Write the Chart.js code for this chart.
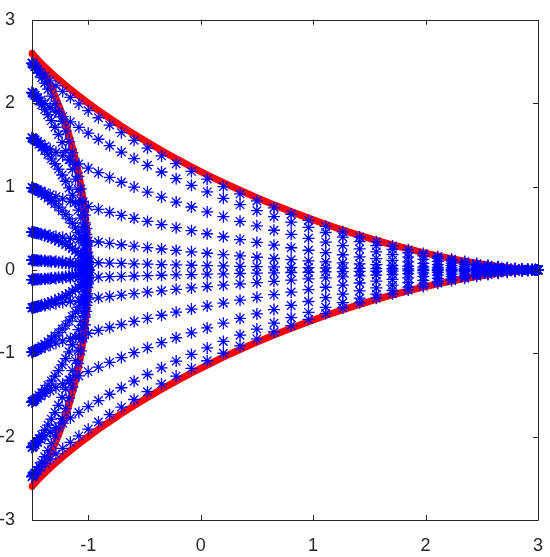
<!DOCTYPE html>
<html>
<head>
<meta charset="utf-8">
<script src="https://cdn.jsdelivr.net/npm/chart.js@4.4.1/dist/chart.umd.min.js"></script>
<style>
  body { margin: 0; background: #fff; }
  #wrap { width: 550px; height: 557px; }
</style>
</head>
<body>
<div id="wrap"><canvas id="myChart" width="550" height="557"></canvas></div>
<script>

// upper half of the red outline, from the right cusp round to (-1, 0)
const curveX = [3, 2.994, 2.977, 2.949, 2.909, 2.859, 2.798, 2.727, 2.645, 2.555,
  2.455, 2.348, 2.232, 2.109, 1.980, 1.846, 1.706, 1.562, 1.414, 1.264,
  1.112, 0.959, 0.805, 0.652, 0.5, 0.350, 0.202, 0.058, -0.082, -0.218,
  -0.348, -0.473, -0.592, -0.705, -0.810, -0.909, -1, -1.083, -1.159, -1.227,
  -1.287, -1.339, -1.384, -1.421, -1.450, -1.472, -1.488, -1.497, -1.5, -1.497,
  -1.489, -1.476, -1.459, -1.438, -1.414, -1.387, -1.358, -1.328, -1.296, -1.264,
  -1.232, -1.200, -1.170, -1.141, -1.113, -1.088, -1.066, -1.046, -1.030, -1.017,
  -1.008, -1.002, -1];
const curveY = [0, 0, 0.001, 0.002, 0.005, 0.010, 0.018, 0.028, 0.041, 0.058,
  0.079, 0.104, 0.134, 0.168, 0.207, 0.252, 0.301, 0.355, 0.414, 0.478,
  0.547, 0.621, 0.699, 0.780, 0.866, 0.955, 1.047, 1.141, 1.237, 1.334,
  1.432, 1.530, 1.628, 1.724, 1.819, 1.911, 2, 2.085, 2.166, 2.242,
  2.312, 2.375, 2.432, 2.481, 2.522, 2.555, 2.579, 2.593, 2.598, 2.593,
  2.578, 2.553, 2.517, 2.471, 2.414, 2.347, 2.270, 2.183, 2.087, 1.981,
  1.866, 1.743, 1.611, 1.472, 1.327, 1.175, 1.018, 0.856, 0.689, 0.520,
  0.348, 0.174, 0];

// blue rows, as a share of the outline height
const rowScale = [0.955, 0.82, 0.61, 0.38, 0.175, 0.045,
  -0.045, -0.175, -0.38, -0.61, -0.82, -0.955];

const tickX = [-1, 0, 1, 2, 3];
const tickY = [-3, -2, -1, 0, 1, 2, 3];

const axisColor = '#262626';

function makeStars(){
  const pts = [];
  rowScale.forEach(function(s){
    for (var j = 0; j < curveX.length; j++) {
      pts.push({x: curveX[j], y: s * curveY[j]});
    }
  });
  return pts;
}

function makeOutline(){
  const pts = [];
  for (var j = 0; j < curveX.length; j++) {
    pts.push({x: curveX[j], y: curveY[j]});
  }
  for (var j = curveX.length - 1; j >= 0; j--) {
    pts.push({x: curveX[j], y: -curveY[j]});
  }
  return pts;
}

// box round the plot with ticks pointing inwards
const boxPlugin = {
  id: 'box',
  afterDraw(chart){
    const ctx = chart.ctx;
    const a = chart.chartArea;
    const xs = chart.scales.x, ys = chart.scales.y;
    ctx.save();
    ctx.strokeStyle = axisColor;
    ctx.lineWidth = 1;
    ctx.beginPath();
    ctx.rect(Math.round(a.left) + 0.5, Math.round(a.top) + 0.5,
      Math.round(a.right - a.left), Math.round(a.bottom - a.top));
    tickX.forEach(function(v){
      const px = Math.round(xs.getPixelForValue(v)) + 0.5;
      ctx.moveTo(px, a.bottom); ctx.lineTo(px, a.bottom - 5);
      ctx.moveTo(px, a.top); ctx.lineTo(px, a.top + 5);
    });
    tickY.forEach(function(v){
      const py = Math.round(ys.getPixelForValue(v)) + 0.5;
      ctx.moveTo(a.left, py); ctx.lineTo(a.left + 5, py);
      ctx.moveTo(a.right, py); ctx.lineTo(a.right - 5, py);
    });
    ctx.stroke();
    ctx.restore();
  }
};

const tickFont = {family: "Arial, 'Liberation Sans', Helvetica, sans-serif", size: 18};

const config = {
  type: 'scatter',
  data: {
    datasets: [
      {
        label: 'grid',
        data: makeStars(),
        pointStyle: 'star',
        pointRadius: 6,
        borderColor: '#0000ff',
        backgroundColor: '#0000ff',
        borderWidth: 1.3,
        showLine: false,
        clip: false,
        order: 1
      },
      {
        label: 'outline',
        data: makeOutline(),
        showLine: true,
        pointRadius: 0,
        borderColor: '#ff0000',
        borderWidth: 7,
        borderJoinStyle: 'round',
        borderCapStyle: 'round',
        tension: 0,
        clip: false,
        order: 2
      }
    ]
  },
  options: {
    responsive: false,
    animation: false,
    layout: {padding: {top: 16, right: 10, left: 0, bottom: 0}},
    plugins: {
      legend: {display: false},
      tooltip: {enabled: false}
    },
    scales: {
      x: {
        type: 'linear',
        min: -1.5,
        max: 3,
        afterBuildTicks: function(s){ s.ticks = tickX.map(function(v){ return {value: v}; }); },
        afterFit: function(s){ s.height = 37; },
        grid: {display: false},
        border: {display: false},
        ticks: {color: axisColor, font: tickFont, padding: 7, maxRotation: 0, autoSkip: false}
      },
      y: {
        type: 'linear',
        min: -3,
        max: 3,
        afterBuildTicks: function(s){ s.ticks = tickY.map(function(v){ return {value: v}; }); },
        afterFit: function(s){ s.width = 32; },
        grid: {display: false},
        border: {display: false},
        ticks: {color: axisColor, font: tickFont, padding: 9, autoSkip: false}
      }
    }
  },
  plugins: [boxPlugin]
};

new Chart(document.getElementById('myChart'), config);
</script>
</body>
</html>
